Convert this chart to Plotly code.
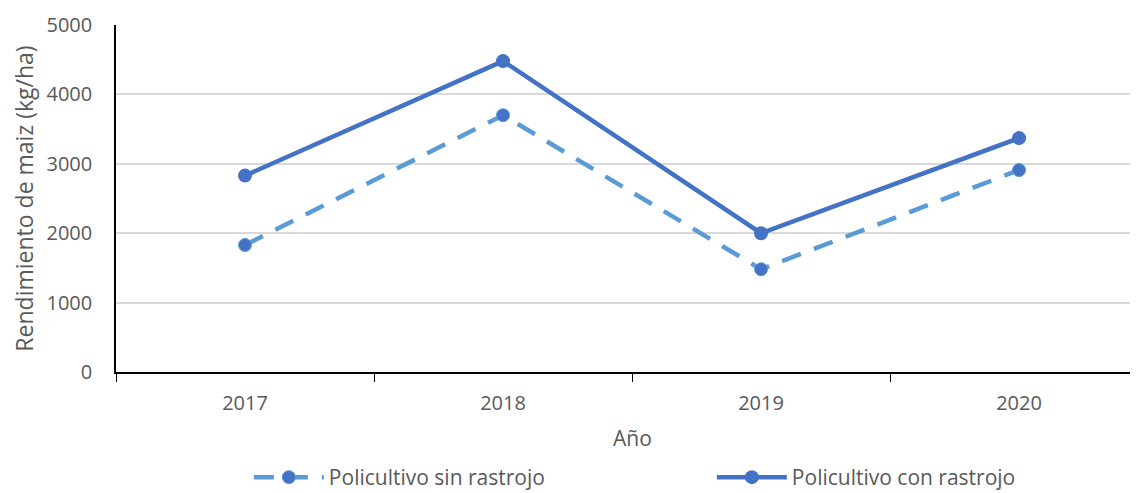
import plotly.graph_objects as go

years = ["2017", "2018", "2019", "2020"]
sin_rastrojo = [1830, 3700, 1480, 2910]
con_rastrojo = [2830, 4480, 2000, 3370]

FONT = "Open Sans"
GREY = "#595959"

fig = go.Figure()
fig.add_trace(go.Scatter(
    x=years, y=sin_rastrojo, name="Policultivo sin rastrojo",
    mode="lines+markers",
    line=dict(color="#5B9BD5", width=4.5, dash="20px,14px"),
    marker=dict(color="#4472C4", size=13, line=dict(color="#5B9BD5", width=1)),
))
fig.add_trace(go.Scatter(
    x=years, y=con_rastrojo, name="Policultivo con rastrojo",
    mode="lines+markers",
    line=dict(color="#4472C4", width=4.5),
    marker=dict(color="#4472C4", size=14),
))

fig.update_layout(
    width=1130, height=485,
    margin=dict(l=108, r=0, t=17, b=121, autoexpand=False),
    paper_bgcolor="white", plot_bgcolor="white",
    font=dict(family=FONT, size=20, color=GREY),
    showlegend=True,
    legend=dict(
        orientation="h", x=0.130, xanchor="left", y=-0.245, yanchor="top",
        itemwidth=70, entrywidth=378, entrywidthmode="pixels",
        font=dict(family=FONT, size=21, color=GREY),
        bgcolor="rgba(0,0,0,0)",
    ),
    xaxis=dict(
        type="category", range=[-0.5, 3.461],
        showline=True, linecolor="black", linewidth=1.5,
        ticks="outside", tickson="boundaries", ticklen=8, tickcolor="black",
        showgrid=False, ticklabelstandoff=12,
        tickfont=dict(family=FONT, size=20, color=GREY),
    ),
    yaxis=dict(
        range=[0, 5000], tickvals=[0, 1000, 2000, 3000, 4000, 5000],
        showline=True, linecolor="black", linewidth=1.5,
        showgrid=True, gridcolor="#D9D9D9", gridwidth=1.5,
        zeroline=False, ticks="", ticklabelstandoff=18,
        tickfont=dict(family=FONT, size=20, color=GREY),
        title=dict(text="Rendimiento de maiz (kg/ha)", standoff=8,
                   font=dict(family=FONT, size=23, color=GREY)),
    ),
    annotations=[dict(
        text="Año", xref="paper", yref="paper", x=0.505, y=-0.19,
        xanchor="center", yanchor="middle", showarrow=False,
        font=dict(family=FONT, size=21, color=GREY),
    )],
)

fig.write_html("out.html")
